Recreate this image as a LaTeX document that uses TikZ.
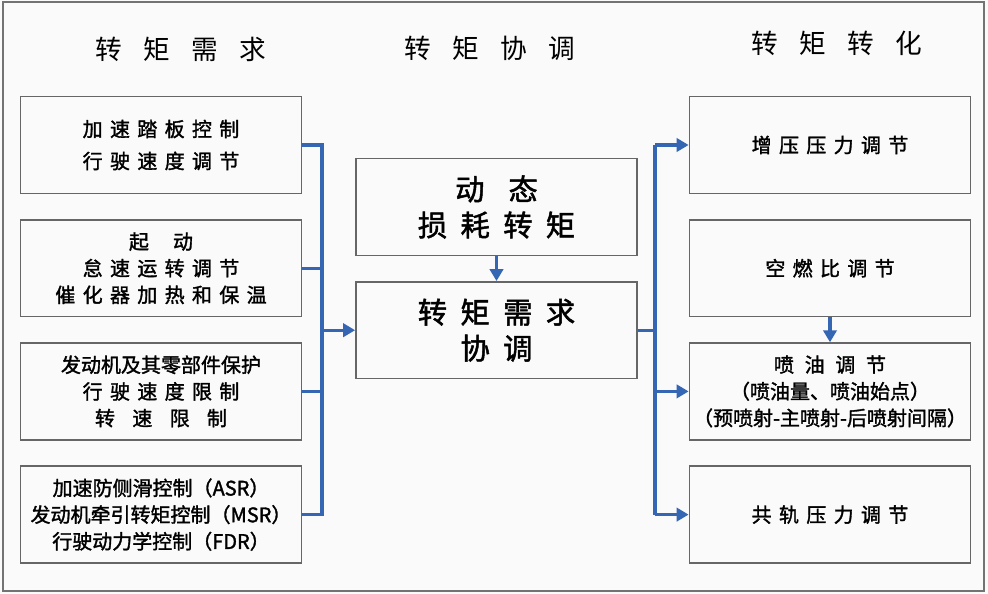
\documentclass[tikz,border=0pt]{standalone}
\usepackage{fontspec}
\setmainfont{Noto Sans CJK SC}
\newfontfamily\heavycjk[FakeBold=1.6]{Noto Sans CJK SC}
\usetikzlibrary{arrows.meta,positioning}
\definecolor{flowblue}{RGB}{52,102,180}
\newcommand{\boxfont}{\heavycjk\fontsize{15}{20}\selectfont\spaceskip=5.5pt\relax}
\newcommand{\bigfont}{\heavycjk\fontsize{22}{27}\selectfont\spaceskip=10pt\relax}
\newcommand{\headfont}{\fontsize{20}{24}\selectfont\spaceskip=16pt\relax}
\begin{document}
\begin{tikzpicture}[x=0.75pt,y=-0.75pt]
\tikzstyle{box}=[draw=black!60, line width=1.1pt, minimum width=211pt, minimum height=72.6pt, align=center, inner sep=1pt, font=\boxfont, node distance=18.7pt]
\tikzstyle{big}=[font=\bigfont]
\tikzstyle{head}=[font=\headfont]
\tikzstyle{bus}=[draw=flowblue, line width=2.5pt]
\tikzstyle{arr}=[bus, -{Triangle[length=9pt,width=10pt]}]
\fill[black!2] (0,0) rectangle (988,593);
\draw[black!55, line width=1.2pt] (3,2) rectangle (984,591);
% column titles
\node[head](H1) at (181,49) {转 矩 需 求};
\node[head](H2) at (490,48) {转 矩 协 调};
\node[head](H3) at (837,43) {转 矩 转 化};
% demand side
\node[box](L1) at (161,145) {加 速 踏 板 控 制\\[4pt]行 驶 速 度 调 节};
\node[box, below=of L1](L2) {起\hspace{18pt}动\\怠 速 运 转 调 节\\催 化 器 加 热 和 保 温};
\node[box, below=of L2](L3) {发动机及其零部件保护\\行 驶 速 度 限 制\\转\hspace{13pt}速\hspace{13pt}限\hspace{13pt}制};
\node[box, below=of L3](L4) {加速防侧滑控制（ASR）\\发动机牵引转矩控制（MSR）\\行驶动力学控制（FDR）};
% coordination
\node[box, big](M1) at (496.5,207) {动\hspace{18pt}态\\损 耗 转 矩};
\node[box, big, below=of M1](M2) {转 矩 需 求\\协 调};
% conversion side
\node[box](R1) at (830,145) {增 压 压 力 调 节};
\node[box, below=of R1](R2) {空 燃 比 调 节};
\node[box, below=of R2](R3) {喷\hspace{8pt}油\hspace{8pt}调\hspace{8pt}节\\（喷油量、喷油始点）\\（预喷射-主喷射-后喷射间隔）};
\node[box, below=of R3](R4) {共 轨 压 力 调 节};
% buses
\coordinate (lt) at (322,145);
\coordinate (lb) at (lt |- L4.east);
\coordinate (rt) at (655,145);
\coordinate (rb) at (rt |- R4.west);
\draw[bus] (L1.east) -- (lt) -- (lb) -- (L4.east);
\draw[bus] (L2.east) -- (L2.east -| lt);
\draw[bus] (L3.east) -- (L3.east -| lt);
\draw[arr] (M2.west -| lt) -- (M2.west);
\draw[arr] (M1.south) -- (M2.north);
\draw[bus] (M2.east) -- (M2.east -| rt);
\draw[bus] (rt) -- (rb);
\draw[arr] (rt) -- (R1.west);
\draw[arr] (R3.west -| rt) -- (R3.west);
\draw[arr] (rb) -- (R4.west);
\draw[arr] (R2.south) -- (R3.north);
\end{tikzpicture}
\end{document}
